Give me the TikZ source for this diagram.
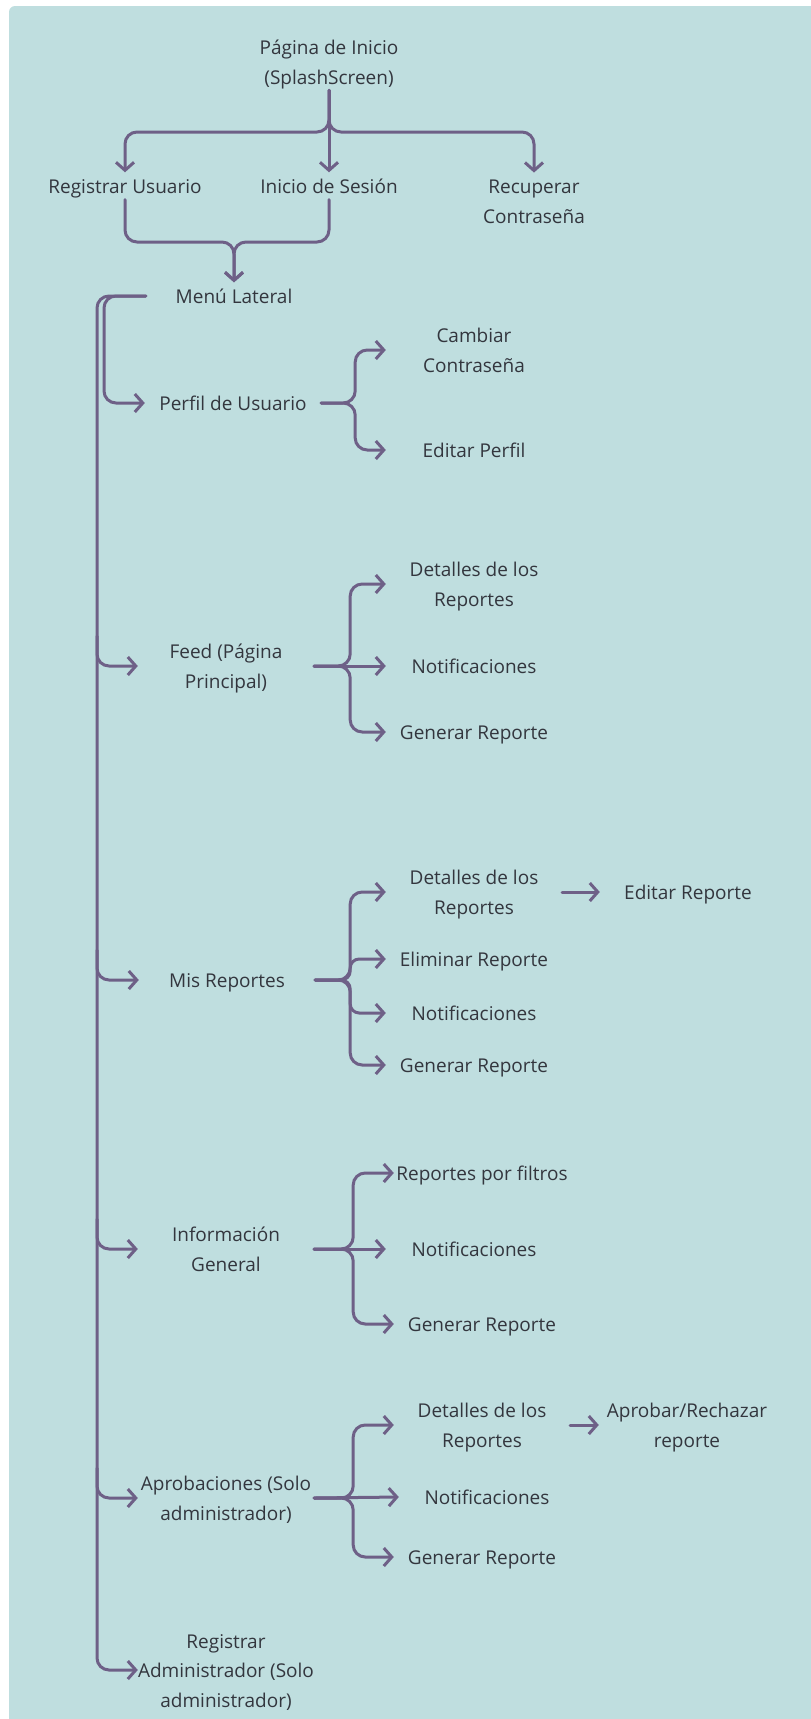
\documentclass[tikz,border=0pt]{standalone}
\usepackage{fontspec}
\setmainfont{Open Sans}
\usetikzlibrary{arrows.meta,calc}
\definecolor{bgteal}{HTML}{BFDEDF}
\definecolor{linepurple}{HTML}{6E6087}
\definecolor{textgray}{HTML}{33363E}
\newcommand{\uprule}{\rule{0pt}{20pt}}
\newcommand{\downrule}{\rule[-5pt]{0pt}{5pt}}

\begin{document}
\begin{tikzpicture}[x=1pt, y=-1pt,
                    labelnode/.style={minimum width=176pt, align=center, inner xsep=0pt, inner ysep=6pt, text=textgray, font=\fontsize{19}{29.5}\selectfont,
                                      execute at begin node={\uprule}, execute at end node={\downrule}},
                    topnode/.style={labelnode, inner ysep=1pt},
                    flow/.style={draw=linepurple, line width=3pt, line cap=round, rounded corners=12pt, -{Straight Barb[length=8pt,width=18pt]}}
                ]
                    \useasboundingbox (0,0) rectangle (811,1719);
                    \fill[white] (0,0) rectangle (811,1719);
                    \fill[bgteal, rounded corners=6pt] (9,6) rectangle (840,1750);

                    % top
                    \node[topnode] (inicio) at (329,62) {\uprule Página de Inicio\\(SplashScreen)\downrule};
                    \node[topnode] (registrar) at (125,186) {Registrar Usuario};
                    \node[topnode] (sesion) at (329,186) {Inicio de Sesión};
                    \node[topnode] (recuperar) at (534,201) {\uprule Recuperar\\Contraseña\downrule};
                    \node[topnode] (menu) at (234,296) {Menú Lateral};

                    % left column
                    \node[labelnode] (perfil) at (233,403) {Perfil de Usuario};
                    \node[labelnode] (feed) at (226,666) {\uprule Feed (Página\\Principal)\downrule};
                    \node[labelnode] (mis) at (227,980) {Mis Reportes};
                    \node[labelnode] (info) at (226,1249) {\uprule Información\\General\downrule};
                    \node[labelnode] (aprob) at (226,1498) {\uprule Aprobaciones (Solo\\administrador)\downrule};
                    \node[labelnode] (regadmin) at (226,1670) {\uprule Registrar\\Administrador (Solo\\administrador)\downrule};

                    % perfil
                    \node[labelnode] (cambiar) at (474,350) {\uprule Cambiar\\Contraseña\downrule};
                    \node[labelnode] (editperfil) at (474,450) {Editar Perfil};

                    % feed
                    \node[labelnode] (detfeed) at (474,584) {\uprule Detalles de los\\Reportes\downrule};
                    \node[labelnode] (notiffeed) at (474,666) {Notificaciones};
                    \node[labelnode] (genfeed) at (474,732) {Generar Reporte};

                    % mis reportes
                    \node[labelnode] (detmis) at (474,892) {\uprule Detalles de los\\Reportes\downrule};
                    \node[labelnode] (editrep) at (688,892) {Editar Reporte};
                    \node[labelnode] (elimmis) at (474,959) {Eliminar Reporte};
                    \node[labelnode] (notifmis) at (474,1013) {Notificaciones};
                    \node[labelnode] (genmis) at (474,1065) {Generar Reporte};

                    % informacion general
                    \node[labelnode] (filtros) at (482,1173) {Reportes por filtros};
                    \node[labelnode] (notifinfo) at (474,1249) {Notificaciones};
                    \node[labelnode] (geninfo) at (482,1324) {Generar Reporte};

                    % aprobaciones
                    \node[labelnode] (detaprob) at (482,1425) {\uprule Detalles de los\\Reportes\downrule};
                    \node[labelnode] (aprobar) at (687,1425) {\uprule Aprobar/Rechazar\\reporte\downrule};
                    \node[labelnode] (notifaprob) at (487,1497) {Notificaciones};
                    \node[labelnode] (genaprob) at (482,1557) {Generar Reporte};

                    \coordinate (topfork) at (329,132);
                    \coordinate (midfork) at (234,242);
                    \coordinate (trunk) at (97,296);
                    \coordinate (inner) at (104,296);

                    \draw[flow] (inicio) -- (sesion);
                    \draw[flow] (inicio.south) -- (topfork) -| (registrar.north);
                    \draw[flow] (inicio.south) -- (topfork) -| (recuperar.north);
                    \draw[flow] (registrar.south) |- (midfork) -- (menu.north);
                    \draw[flow] (sesion.south) |- (midfork) -- (menu.north);

                    \draw[flow] (menu.west) -- (trunk) |- (regadmin.west);
                    \draw[flow] (menu.west) -- (inner) |- (perfil.west);
                    \draw[flow] ($(trunk |- feed.west)+(0,-30)$) |- (feed.west);
                    \draw[flow] ($(trunk |- mis.west)+(0,-30)$) |- (mis.west);
                    \draw[flow] ($(trunk |- info.west)+(0,-30)$) |- (info.west);
                    \draw[flow] ($(trunk |- aprob.west)+(0,-30)$) |- (aprob.west);

                    \draw[flow] (perfil.east) -- ++(34,0) |- (cambiar.west);
                    \draw[flow] (perfil.east) -- ++(34,0) |- (editperfil.west);

                    \draw[flow] (feed.east) -- (notiffeed.west);
                    \draw[flow] (feed.east) -- ++(36,0) |- (detfeed.west);
                    \draw[flow] (feed.east) -- ++(36,0) |- (genfeed.west);

                    \draw[flow] (mis.east) -- ++(35,0) |- (detmis.west);
                    \draw[flow, rounded corners=9pt] (mis.east) -- ++(35,0) |- (elimmis.west);
                    \draw[flow, rounded corners=9pt] (mis.east) -- ++(35,0) |- (notifmis.west);
                    \draw[flow] (mis.east) -- ++(35,0) |- (genmis.west);
                    \draw[flow] (detmis) -- (editrep);

                    \draw[flow] (info.east) -- (notifinfo.west);
                    \draw[flow] (info.east) -- ++(39,0) |- (filtros.west);
                    \draw[flow] (info.east) -- ++(39,0) |- (geninfo.west);

                    \draw[flow] (aprob.east) -- (notifaprob.west);
                    \draw[flow] (aprob.east) -- ++(39,0) |- (detaprob.west);
                    \draw[flow] (aprob.east) -- ++(39,0) |- (genaprob.west);
                    \draw[flow] (detaprob) -- (aprobar);
                \end{tikzpicture}
\end{document}
